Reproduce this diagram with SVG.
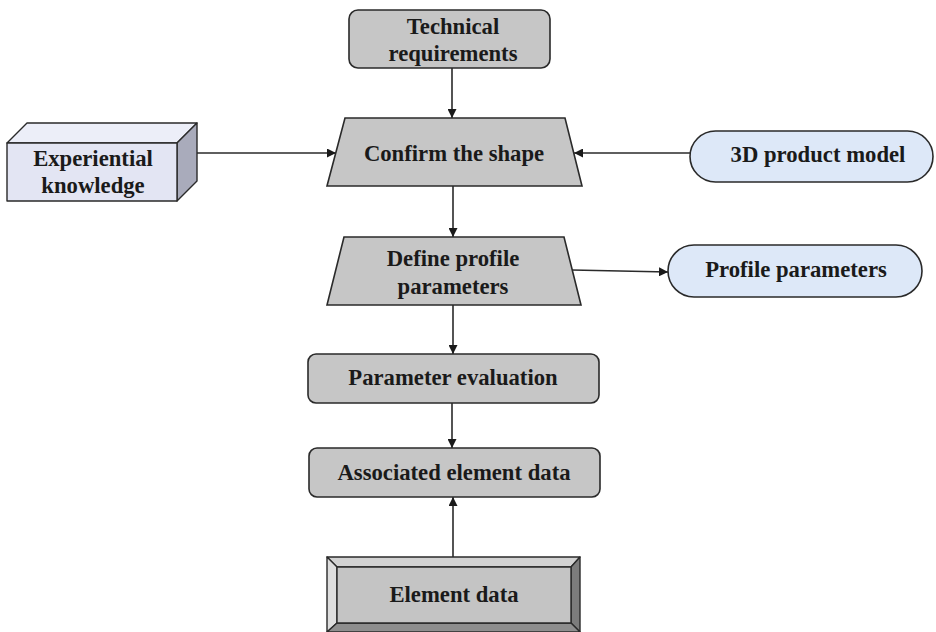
<svg xmlns="http://www.w3.org/2000/svg" width="936" height="632" viewBox="0 0 936 632">
<defs>
<style>
.t{font-family:"Liberation Serif","Times New Roman",serif;font-weight:bold;font-size:22.7px;fill:#1a1a1a;text-anchor:middle}
.g{fill:#c6c6c6;stroke:#2a2a2a;stroke-width:1.6}
.b{fill:#dde8f8;stroke:#2a2a2a;stroke-width:1.6}
.c{fill:none;stroke:#2a2a2a;stroke-width:1.6}
.k{stroke:#2a2a2a;stroke-width:1.4;stroke-linejoin:round}
</style>
<marker id="ah" viewBox="0 0 10 10" refX="10" refY="5" markerWidth="9" markerHeight="9" markerUnits="userSpaceOnUse" orient="auto">
<path d="M0,0 L10,5 L0,10 z" fill="#1a1a1a"/>
</marker>
</defs>
<rect width="936" height="632" fill="#ffffff"/>
<g id="connectors">
<line class="c" x1="452" y1="68" x2="452" y2="118" marker-end="url(#ah)"/>
<line class="c" x1="197" y1="153" x2="336" y2="153" marker-end="url(#ah)"/>
<line class="c" x1="690" y1="153" x2="574" y2="153" marker-end="url(#ah)"/>
<line class="c" x1="453" y1="186" x2="453" y2="237" marker-end="url(#ah)"/>
<line class="c" x1="572" y1="270" x2="668" y2="272" marker-end="url(#ah)"/>
<line class="c" x1="453" y1="305" x2="453" y2="354" marker-end="url(#ah)"/>
<line class="c" x1="452" y1="403" x2="452" y2="448" marker-end="url(#ah)"/>
<line class="c" x1="453" y1="557" x2="453" y2="497" marker-end="url(#ah)"/>
</g>
<g id="technical-requirements">
<rect class="g" x="349" y="10" width="201" height="58" rx="9"/>
<text class="t" x="453" y="34">Technical</text>
<text class="t" x="453" y="61">requirements</text>
</g>
<g id="experiential-knowledge">
<polygon class="k" fill="#eceef8" points="7,143 27,123 197,123 177,143"/>
<polygon class="k" fill="#a9abbb" points="177,143 197,123 197,181 177,201"/>
<polygon class="k" fill="#e3e5f3" points="7,143 177,143 177,201 7,201"/>
<text class="t" x="93" y="166">Experiential</text>
<text class="t" x="93" y="193">knowledge</text>
</g>
<g id="confirm-shape">
<polygon class="g" points="345,118 565,118 582,186 327,186"/>
<text class="t" x="454" y="161">Confirm the shape</text>
</g>
<g id="product-model">
<rect class="b" x="690" y="131" width="243" height="51" rx="25.5"/>
<text class="t" x="818" y="162">3D product model</text>
</g>
<g id="define-profile">
<polygon class="g" points="344,237 564,237 581,305 327,305"/>
<text class="t" x="453" y="266">Define profile</text>
<text class="t" x="453" y="294">parameters</text>
</g>
<g id="profile-parameters">
<rect class="b" x="668" y="245" width="254" height="52" rx="26"/>
<text class="t" x="796" y="277">Profile parameters</text>
</g>
<g id="parameter-evaluation">
<rect class="g" x="308" y="354" width="291" height="49" rx="8"/>
<text class="t" x="453" y="385">Parameter evaluation</text>
</g>
<g id="associated-element-data">
<rect class="g" x="309" y="448" width="291" height="49" rx="8"/>
<text class="t" x="454" y="480">Associated element data</text>
</g>
<g id="element-data">
<polygon class="k" fill="#d2d2d2" points="327,557 580,557 571,567 337,567"/>
<polygon class="k" fill="#dedede" points="327,557 337,567 337,623 327,632"/>
<polygon class="k" fill="#7c7c7c" points="580,557 580,632 571,623 571,567"/>
<polygon class="k" fill="#8e8e8e" points="327,632 337,623 571,623 580,632"/>
<rect class="k" fill="#c4c4c4" x="337" y="567" width="234" height="56"/>
<text class="t" x="454" y="602">Element data</text>
</g>
</svg>
